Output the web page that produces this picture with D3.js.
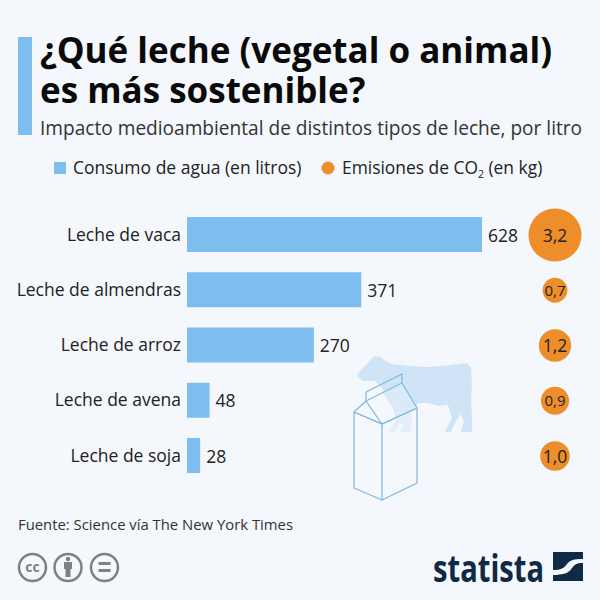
<!DOCTYPE html>
<html><head><meta charset="utf-8">
<script src="https://cdn.jsdelivr.net/npm/d3@7"></script>
<style>html,body{margin:0;padding:0;background:#f4f7fb}svg{display:block}text{font-family:"Open Sans",sans-serif}</style>
</head><body><svg id="c" width="600" height="600"></svg>
<script>
const categories=["Leche de vaca","Leche de almendras","Leche de arroz","Leche de avena","Leche de soja"];
const waterValues=[628,371,270,48,28];
const co2Values=[3.2,0.7,1.2,0.9,1.0];
const co2Labels=["3,2","0,7","1,2","0,9","1,0"];
const titleLines=["¿Qué leche (vegetal o animal)","es más sostenible?"];
const subtitle="Impacto medioambiental de distintos tipos de leche, por litro";
const source="Fuente: Science vía The New York Times";
const blue="#7dbdf0",orange="#ee8e2a";
const svg=d3.select("#c");
svg.append("rect").attr("width",600).attr("height",600).attr("fill","#f4f7fb");
// header
svg.append("rect").attr("x",18).attr("y",37).attr("width",14).attr("height",98).attr("fill",blue);
svg.selectAll(".t").data(titleLines).join("text").attr("x",40).attr("y",(d,i)=>63+i*39.5)
 .attr("font-size",35).attr("font-weight",700).attr("fill","#0a0a0a").text(d=>d);
svg.append("text").attr("x",40).attr("y",135).attr("font-size",19.1).attr("fill","#333").text(subtitle);
// legend
svg.append("rect").attr("x",54).attr("y",162).attr("width",12).attr("height",12).attr("fill",blue);
svg.append("text").attr("x",73).attr("y",174).attr("font-size",17.5).attr("fill","#222").text("Consumo de agua (en litros)");
svg.append("circle").attr("cx",328).attr("cy",168).attr("r",6.5).attr("fill",orange);
const lg=svg.append("text").attr("x",342).attr("y",174).attr("font-size",17.4).attr("fill","#222");
lg.append("tspan").text("Emisiones de CO");
lg.append("tspan").attr("font-size",10.5).attr("dy",4).text("2");
lg.append("tspan").attr("dy",-4).text(" (en kg)");
// scales
const x=d3.scaleLinear().domain([0,628]).range([187,482]);
const y=d3.scalePoint().domain(categories).range([235,456]);
const r=d3.scaleSqrt().domain([0,3.2]).range([0,26.5]);
// illustration
const art=svg.append("g");
art.append("path").attr("fill","#cfe4f7").attr("d","M357 375 L362 369 L369 362 L374 356 L381 357 L385 361 L392 364 L410 366 L430 367 L450 365 L467 363 L471 368 L472 385 L471 400 L472 415 L472 432 L461 432 L464 421 L461 414 L456 421 L451 432 L445 432 L452 418 L448 405 L440 406 L428 403 L418 403 L412 412 L411 432 L400 432 L403 424 L399 424 L394 432 L388 432 L396 420 L393 408 L386 398 L382 388 L375 381 L362 381 Z");
const bx=art.append("g").attr("fill","none").attr("stroke","#7fb8df").attr("stroke-width",1.2).attr("stroke-linejoin","round");
bx.append("path").attr("fill","rgba(244,247,251,0.6)").attr("d","M354 412 L382 424 L417 408 L417 483 L382 500 L354 488 Z");
bx.append("path").attr("fill","rgba(244,247,251,0.3)").attr("d","M354 412 L366 401 L402 383 L417 408 L382 424 Z");
bx.append("path").attr("d","M382 424 L382 500 M366 401 L382 424 M366 392 L366 401 M366 392 L402 374 L402 383");
// bars
const rows=svg.append("g");
rows.selectAll(".cat").data(categories).join("text").attr("x",181).attr("y",d=>y(d)+5.5)
 .attr("text-anchor","end").attr("font-size",17.5).attr("fill","#222").text(d=>d);
rows.selectAll(".bar").data(waterValues).join("rect").attr("x",x(0))
 .attr("y",(d,i)=>y(categories[i])-18).attr("height",35).attr("width",d=>x(d)-x(0)).attr("fill",blue);
rows.selectAll(".val").data(waterValues).join("text").attr("x",d=>x(d)+6).attr("y",(d,i)=>y(categories[i])+6.5)
 .attr("font-size",17.5).attr("fill","#222").text(d=>d);
rows.selectAll(".dot").data(co2Values).join("circle").attr("cx",555).attr("cy",(d,i)=>y(categories[i])).attr("r",d=>r(d)).attr("fill",orange);
rows.selectAll(".dl").data(co2Values).join("text").attr("x",555).attr("y",(d,i)=>y(categories[i])+(d<1?5.5:6.5))
 .attr("text-anchor","middle").attr("font-size",d=>d<1?15:17.5).attr("fill","#222").text((d,i)=>co2Labels[i]);
// footer
svg.append("text").attr("x",18).attr("y",530).attr("font-size",14.85).attr("fill","#333").text(source);
const cc=svg.append("g").attr("fill","none").attr("stroke","#808080").attr("stroke-width",2.5);
[32.5,68,104.5].forEach(cx=>cc.append("circle").attr("cx",cx).attr("cy",567.5).attr("r",13.5));
svg.append("text").attr("x",32.5).attr("y",572).attr("text-anchor","middle").attr("font-size",14).attr("font-weight",700).attr("fill","#808080").text("cc");
const p=svg.append("g").attr("fill","#808080");
p.append("circle").attr("cx",68).attr("cy",559).attr("r",2.2);
p.append("path").attr("d","M64 562 H72 V569 H70.5 V577 H65.5 V569 H64 Z");
p.append("path").attr("d","M98.5 562 H110.5 V565 H98.5 Z M98.5 569 H110.5 V572 H98.5 Z");
svg.append("text").attr("x",433).attr("y",582).attr("font-family","'Liberation Sans Narrow','Liberation Sans',sans-serif").attr("font-size",38).attr("font-weight",700).attr("fill","#0f2a47").attr("textLength",111).attr("lengthAdjust","spacingAndGlyphs").text("statista");
svg.append("rect").attr("x",553).attr("y",552).attr("width",30).attr("height",29).attr("fill","#0f2a47");
svg.append("path").attr("fill","#f4f7fb").attr("d","M553 570 C561 570 564 568 567 564 C570 560 574 559 583 559 L583 563 C577 563 575 564 572 568 C569 573 563 575 553 575 Z");
</script></body></html>
